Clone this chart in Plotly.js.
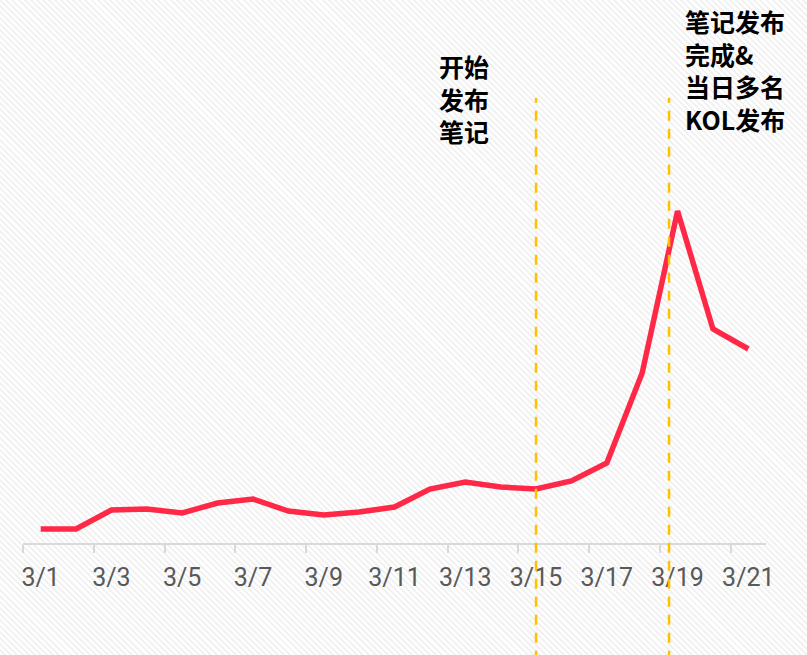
<!DOCTYPE html>
<html>
<head>
<meta charset="utf-8">
<script src="https://cdn.plot.ly/plotly-3.0.1.min.js"></script>
<style>
  html, body { margin: 0; padding: 0; }
  body {
    width: 807px; height: 655px; overflow: hidden;
    background: repeating-linear-gradient(45deg, #ffffff 0px, #ffffff 2.2px, #f2f2f2 2.2px, #f2f2f2 4.3px);
  }
  #chart { width: 807px; height: 655px; }
</style>
</head>
<body>
<div id="chart"></div>
<script>
// categories (dates)
const dates = ['3/1','3/2','3/3','3/4','3/5','3/6','3/7','3/8','3/9','3/10','3/11',
               '3/12','3/13','3/14','3/15','3/16','3/17','3/18','3/19','3/20','3/21'];
// series values (relative units)
const values = [14, 14, 33, 34, 30, 40, 44, 32, 28, 31, 36,
                54, 61, 56, 54, 62, 80, 170, 332, 214, 194];
// event markers
const eventDates = ['3/15', '3/19'];
const eventShift = [0, -0.24];
const eventTexts = ['开始<br>发布<br>笔记', '笔记发布<br>完成&<br>当日多名<br>KOL发布'];

const trace = {
  x: dates, y: values, type: 'scatter', mode: 'lines',
  line: { color: '#FF2847', width: 5.5 },
  hoverinfo: 'skip'
};

const shapes = eventDates.map((d, i) => ({
  type: 'line', xref: 'x', yref: 'paper',
  x0: d, x1: d, x0shift: eventShift[i], x1shift: eventShift[i],
  y0: -0.25, y1: 0.8195,
  line: { color: '#FFC000', width: 2.5, dash: '10px,8px' },
  layer: 'above'
}));

const annFont = { family: 'Noto Sans CJK SC', size: 25, color: '#000000', weight: 900 };
const annotations = [
  { text: '<b>' + eventTexts[0] + '</b>', xref: 'paper', yref: 'paper', x: 0.557, y: 0.916,
    xanchor: 'left', yanchor: 'top', align: 'left', showarrow: false, font: annFont },
  { text: '<b>' + eventTexts[1] + '</b>', xref: 'paper', yref: 'paper', x: 0.888, y: 0.999,
    xanchor: 'left', yanchor: 'top', align: 'left', showarrow: false, font: annFont }
];

const layout = {
  width: 807, height: 655,
  margin: { l: 23, r: 41, t: 0, b: 112, pad: 0 },
  paper_bgcolor: 'rgba(0,0,0,0)', plot_bgcolor: 'rgba(0,0,0,0)',
  showlegend: false,
  xaxis: {
    type: 'category', range: [-0.5, 20.5],
    tickson: 'boundaries', dtick: 2, tick0: 0, tickangle: 0,
    ticks: 'outside', ticklen: 8, tickwidth: 2, tickcolor: '#d9d9d9',
    showline: true, linecolor: '#d9d9d9', linewidth: 2,
    showgrid: false, zeroline: false,
    ticklabelstandoff: 11,
    tickfont: { family: 'Roboto', size: 25, color: '#595959' },
    fixedrange: true
  },
  yaxis: {
    range: [0, 543], visible: false, showgrid: false, zeroline: false, fixedrange: true
  },
  shapes: shapes,
  annotations: annotations
};

Plotly.newPlot('chart', [trace], layout, { displayModeBar: false, staticPlot: true });
</script>
</body>
</html>
